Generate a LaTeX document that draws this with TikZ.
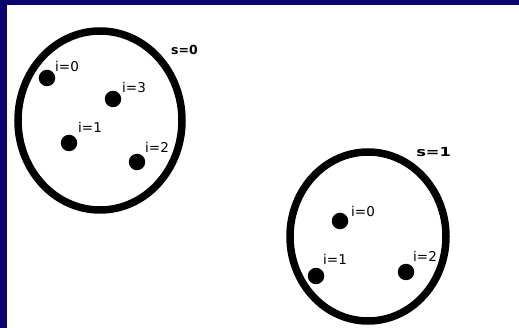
\documentclass[tikz,border=0pt]{standalone}
\usepackage{fontspec}
\setmainfont{DejaVu Sans}
\usepackage{xcolor}
\definecolor{slidenavy}{HTML}{0A0470}
\usepackage{tikz}
\usetikzlibrary{shapes.geometric,positioning}

\begin{document}
\begin{tikzpicture}[x=1pt,y=-1pt]
\tikzset{
 group/.style={draw,ellipse,line width=7.5pt,inner sep=0pt},
 elem/.style={circle,fill=black,minimum size=16.5pt,inner sep=0pt},
 idx/.style={font=\fontsize{13.5}{15}\selectfont,inner sep=0pt,anchor=base west},
 setname/.style={font=\bfseries\fontsize{12.5}{14}\selectfont,inner sep=0pt,anchor=base west}
}
% slide background
\fill[white] (0,0) rectangle (519,328);
\fill[slidenavy] (0,0) rectangle (519,5);
\fill[slidenavy] (0,0) rectangle (7,328);
% set s=0
\node[group,minimum width=164pt,minimum height=179pt] (s0) at (100,120.5) {};
\node[setname] (s0name) at (171,54.5) {s=0};
\node[elem] (a0) at (47,78) {};
\node[elem] (a1) at (69,143) {};
\node[elem] (a2) at (137,162) {};
\node[elem] (a3) at (113,99) {};
\node[idx] at (55,72) {i=0};
\node[idx] at (78,133) {i=1};
\node[idx] at (145,153) {i=2};
\node[idx] at (122,93) {i=3};
% set s=1
\node[group,minimum width=156pt,minimum height=169pt] (s1) at (368,236.5) {};
\node[setname,xscale=1.3] (s1name) at (416,156.5) {s=1};
\node[elem] (b0) at (340,221) {};
\node[elem] (b1) at (316,276) {};
\node[elem] (b2) at (406,272) {};
\node[idx] at (351,217) {i=0};
\node[idx] at (323,265) {i=1};
\node[idx] at (413,262) {i=2};
\end{tikzpicture}
\end{document}
